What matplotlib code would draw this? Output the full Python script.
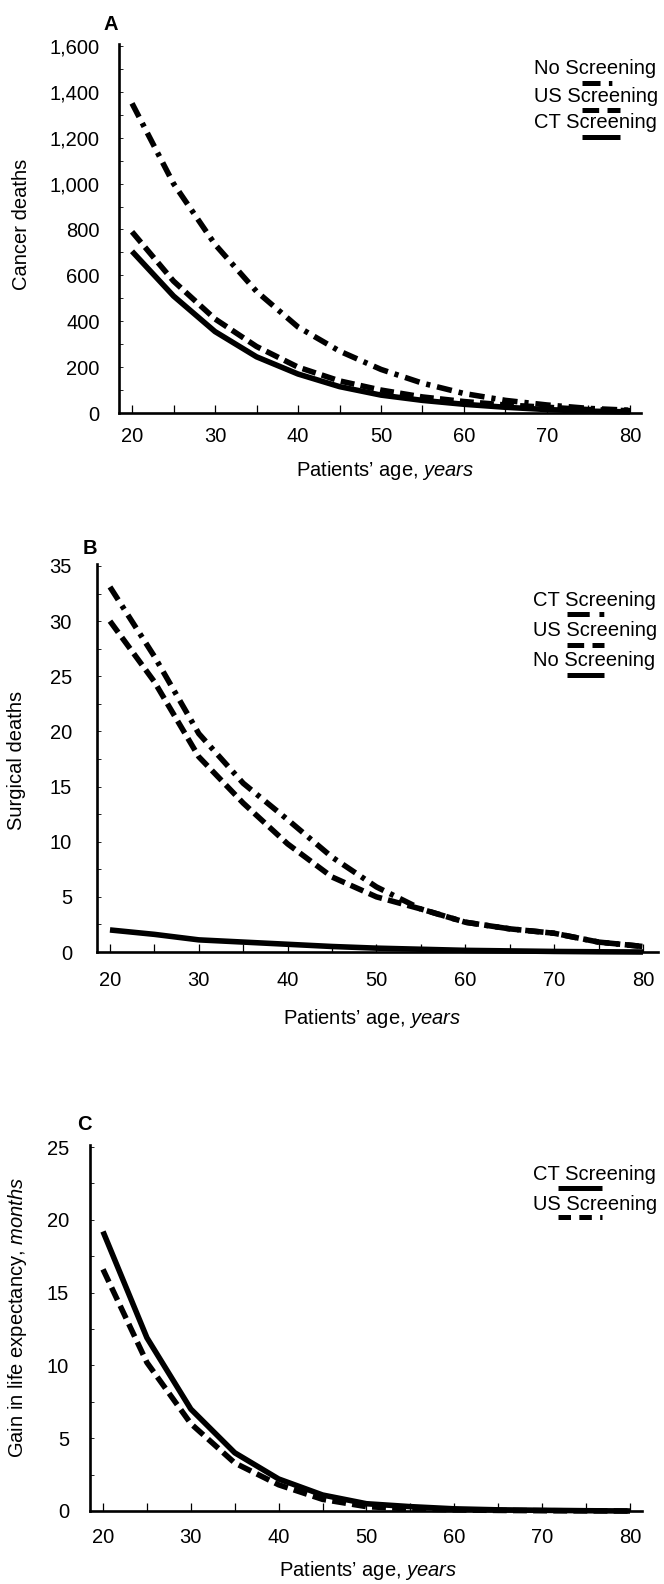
import matplotlib
matplotlib.use("Agg")
import matplotlib.pyplot as plt
from matplotlib.lines import Line2D
from matplotlib.ticker import MultipleLocator, FuncFormatter

plt.rcParams['font.family'] = ['Liberation Sans', 'DejaVu Sans']
plt.rcParams['mathtext.fontset'] = 'custom'
plt.rcParams['mathtext.rm'] = 'Liberation Sans'
plt.rcParams['mathtext.it'] = 'Liberation Sans:italic'
plt.rcParams['lines.scale_dashes'] = False

# ---- data -------------------------------------------------------------
ages = [20, 25, 30, 35, 40, 45, 50, 55, 60, 65, 70, 75, 80]

cancer_none = [1350, 1000, 735, 530, 375, 270, 190, 130, 85, 55, 35, 20, 12]
cancer_us = [790, 575, 410, 290, 200, 140, 100, 70, 50, 35, 25, 15, 10]
cancer_ct = [705, 510, 355, 245, 170, 115, 78, 55, 38, 25, 15, 8, 5]

surg_ct = [33.1, 26.8, 19.8, 15.3, 12.0, 8.6, 5.9, 3.9, 2.7, 2.1, 1.7, 0.9, 0.5]
surg_us = [30.0, 24.5, 17.7, 13.5, 9.8, 6.8, 5.0, 3.9, 2.7, 2.1, 1.7, 0.9, 0.5]
surg_none = [2.0, 1.6, 1.1, 0.9, 0.7, 0.5, 0.35, 0.25, 0.15, 0.1, 0.05, 0.02, 0.0]

gain_ct = [19.2, 11.9, 7.0, 4.0, 2.2, 1.1, 0.5, 0.3, 0.15, 0.08, 0.05, 0.02, 0.0]
gain_us = [16.6, 10.2, 6.0, 3.3, 1.8, 0.8, 0.3, 0.15, 0.08, 0.04, 0.02, 0.01, 0.0]

# ---- figure -----------------------------------------------------------
W, H = 664, 1584
fig = plt.figure(figsize=(W / 100, H / 100), dpi=100)
FS = 14.5
LW = 4.0
DASHDOT = (11, 5, 3, 5)
DASHED = (10, 4.5)


def fx(px):
    return px / W


def fy(py):
    return 1 - py / H


def make_axes(left, right, top, bottom, xlim, ylim, ystep, yminor, xpad, ypad, ylabfmt=None):
    ax = fig.add_axes([fx(left), fy(bottom), fx(right - left), (bottom - top) / H])
    ax.set_xlim(*xlim)
    ax.set_ylim(*ylim)
    for s in ('top', 'right'):
        ax.spines[s].set_visible(False)
    for s in ('left', 'bottom'):
        ax.spines[s].set_linewidth(1.9)
    ax.xaxis.set_major_locator(MultipleLocator(10))
    ax.xaxis.set_minor_locator(MultipleLocator(5))
    ax.yaxis.set_major_locator(MultipleLocator(ystep))
    ax.yaxis.set_minor_locator(MultipleLocator(yminor))
    ax.tick_params(axis='x', which='both', direction='in', length=5.5, width=0.9,
                   labelsize=FS, pad=xpad)
    ax.tick_params(axis='y', which='both', direction='in', length=3, width=0.6,
                   labelsize=FS, pad=ypad)
    if ylabfmt is not None:
        ax.yaxis.set_major_formatter(FuncFormatter(ylabfmt))
    return ax


def sample(x0, length, y, dashes):
    ln = Line2D([fx(x0), fx(x0 + length)], [fy(y), fy(y)], transform=fig.transFigure,
                color='black', lw=3.6, solid_capstyle='butt', dash_capstyle='butt')
    if dashes is not None:
        ln.set_dashes(dashes)
    fig.add_artist(ln)


def curve(ax, y, dashes):
    ln, = ax.plot(ages, y, color='black', lw=LW, solid_capstyle='butt',
                  dash_capstyle='butt', solid_joinstyle='round', clip_on=False)
    if dashes is not None:
        ln.set_dashes(dashes)
    return ln


XLABEL = "Patients\u2019 age, $\\mathit{years}$"

# ---- panel A: cancer deaths ------------------------------------------
axA = make_axes(119, 641, 44, 413, (18.43, 81.33), (0, 1608.7), 200, 100, 10, 14,
                ylabfmt=lambda v, p: f"{int(v):,}")
curve(axA, cancer_none, DASHDOT)
curve(axA, cancer_us, DASHED)
curve(axA, cancer_ct, None)
fig.text(fx(111), fy(25), "A", fontsize=FS, fontweight='bold', ha='center', va='center')
fig.text(fx(22), fy(224), "Cancer deaths", fontsize=FS, rotation=90, ha='center', va='center')
fig.text(fx(385), fy(471), XLABEL, fontsize=FS, ha='center', va='center')

legA = [("No Screening", (13, 6, 2.5, 20)), ("US Screening", (12, 6)), ("CT Screening", None)]
for i, (lab, d) in enumerate(legA):
    yy = 69 + 27 * i
    fig.text(fx(534), fy(yy), lab, fontsize=FS, ha='left', va='center')
    sample(582, 38, yy + 14, d)

# ---- panel B: surgical deaths ----------------------------------------
axB = make_axes(97, 658, 564, 952, (18.54, 81.69), (0, 35.18), 5, 2.5, 14, 18)
curve(axB, surg_ct, DASHDOT)
curve(axB, surg_us, DASHED)
curve(axB, surg_none, None)
fig.text(fx(90), fy(548), "B", fontsize=FS, fontweight='bold', ha='center', va='center')
fig.text(fx(17), fy(760), "Surgical deaths", fontsize=FS, rotation=90, ha='center', va='center')
fig.text(fx(372), fy(1018), XLABEL, fontsize=FS, ha='center', va='center')

legB = [("CT Screening", (16, 7, 3.5, 20)), ("US Screening", (12, 6)), ("No Screening", None)]
for i, (lab, d) in enumerate(legB):
    yy = 600 + 30.5 * i
    fig.text(fx(533), fy(yy), lab, fontsize=FS, ha='left', va='center')
    sample(567, 37, yy + 14, d)

# ---- panel C: gain in life expectancy ---------------------------------
axC = make_axes(90, 642, 1145, 1511, (18.52, 81.37), (0, 25.14), 5, 2.5, 12, 15)
curve(axC, gain_ct, None)
curve(axC, gain_us, DASHED)
fig.text(fx(84), fy(1124), "C", fontsize=FS, fontweight='bold', ha='center', va='center')
fig.text(fx(18), fy(1317), "Gain in life expectancy, $\\mathit{months}$", fontsize=FS,
         rotation=90, ha='center', va='center')
fig.text(fx(368), fy(1571), XLABEL, fontsize=FS, ha='center', va='center')

legC = [("CT Screening", None), ("US Screening", (9, 6))]
for i, (lab, d) in enumerate(legC):
    yy = 1175 + 29 * i
    fig.text(fx(533), fy(yy), lab, fontsize=FS, ha='left', va='center')
    sample(558, 44, yy + 13, d)

fig.savefig("out.png", dpi=100)
